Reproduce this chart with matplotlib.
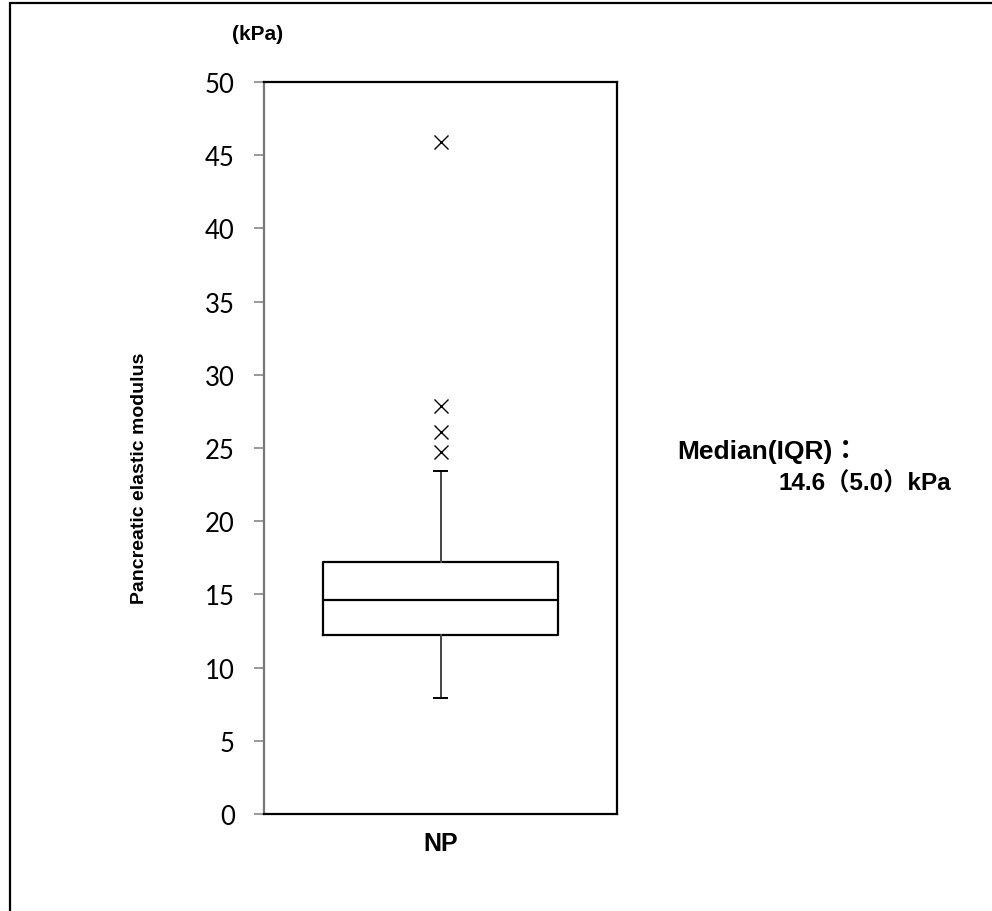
import matplotlib.pyplot as plt
from matplotlib.patches import Rectangle

# 箱ひげ図の要約値 (kPa)
group_label = "NP"
q1 = 12.2
median = 14.6
q3 = 17.2
whisker_low = 7.9
whisker_high = 23.4
outliers = [24.7, 26.1, 27.9, 45.9]
y_ticks = [0, 5, 10, 15, 20, 25, 30, 35, 40, 45, 50]

bold_font = ["Liberation Sans", "Noto Sans CJK JP", "DejaVu Sans"]

fig = plt.figure(figsize=(9.92, 9.12), dpi=100)
ax = fig.add_axes([264 / 992, 1 - 815 / 912, (617 - 264) / 992, (815 - 83) / 912])

stats = [{
    "med": median, "q1": q1, "q3": q3,
    "whislo": whisker_low, "whishi": whisker_high,
    "fliers": outliers, "label": group_label,
}]
ax.bxp(stats, positions=[1], widths=0.663, capwidths=0.034,
       boxprops=dict(color="black", linewidth=1.6),
       medianprops=dict(color="black", linewidth=1.6),
       whiskerprops=dict(color="#444444", linewidth=1.4),
       capprops=dict(color="black", linewidth=1.4),
       flierprops=dict(marker="x", markersize=10, markeredgecolor="black",
                       markeredgewidth=1.0))

ax.set_xlim(0.5, 1.5)
ax.set_ylim(0, 50)
ax.set_yticks(y_ticks)
ax.set_yticklabels([str(v) for v in y_ticks], fontsize=18.5, family="Lato")
ax.tick_params(axis="y", direction="out", length=7, width=1.2, color="#888888", pad=14)
ax.set_xticks([1])
ax.set_xticklabels([group_label], family=bold_font, fontsize=18, fontweight="bold")
ax.tick_params(axis="x", length=0, pad=12)

for side in ["top", "right", "bottom"]:
    ax.spines[side].set_color("black")
    ax.spines[side].set_linewidth(1.6)
ax.spines["left"].set_color("#777777")
ax.spines["left"].set_linewidth(1.6)

# 縦軸ラベル
fig.text(140 / 992, 1 - 478 / 912, "Pancreatic elastic modulus", family=bold_font,
         fontsize=14, fontweight="bold", rotation=90, ha="center", va="center")

fig.text(232 / 992, 1 - 35 / 912, "(kPa)", family=bold_font, fontsize=15,
         fontweight="bold", va="center", ha="left")
fig.text(677 / 992, 1 - 452 / 912, "Median(IQR)：", family=bold_font, fontsize=19,
         fontweight="bold", va="center", ha="left")
fig.text(778 / 992, 1 - 484 / 912, "14.6（5.0）kPa", family=bold_font, fontsize=17.5,
         fontweight="bold", va="center", ha="left")

# 外枠（左と上のみ見える）
fig.patches.append(Rectangle((10 / 992, -0.1), 1.2, 1 - 4 / 912 + 0.1,
                             transform=fig.transFigure, fill=False,
                             edgecolor="black", linewidth=1.6))

fig.savefig("out.png", dpi=100)
